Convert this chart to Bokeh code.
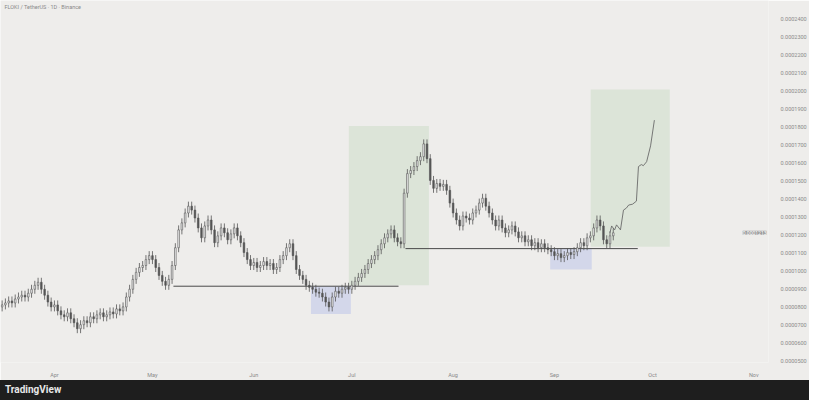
import pandas as pd
from bokeh.plotting import figure
from bokeh.layouts import column
from bokeh.models import (ColumnDataSource, Range1d, FixedTicker, NumeralTickFormatter,
                          DatetimeTickFormatter, MonthsTicker, Label, BoxAnnotation, Div)
from bokeh.embed import file_html
from bokeh.resources import INLINE

title_text = "FLOKI / TetherUS · 1D · Binance"
start_date = "2024-03-16"

# daily closes (USDT)
close = [
    0.0000812, 0.0000823, 0.0000834, 0.0000823, 0.0000845, 0.0000856, 0.0000866, 0.0000856, 0.0000877, 0.0000899, 0.0000921, 0.0000938, 0.0000899,
    0.0000866, 0.0000828, 0.0000801, 0.0000812, 0.0000779, 0.0000757, 0.0000746, 0.0000768, 0.0000735, 0.0000713, 0.0000680,
    0.0000702, 0.0000724, 0.0000713, 0.0000746, 0.0000735, 0.0000757, 0.0000768, 0.0000746, 0.0000757, 0.0000773, 0.0000762, 0.0000790, 0.0000779, 0.0000801,
    0.0000856, 0.0000899, 0.0000954, 0.0000993, 0.0001020, 0.0001031, 0.0001064, 0.0001086,
    0.0001064, 0.0001020, 0.0000976, 0.0000943, 0.0000921, 0.0000954,
    0.0001031, 0.0001130, 0.0001229, 0.0001268, 0.0001323, 0.0001361, 0.0001339,
    0.0001295, 0.0001240, 0.0001185, 0.0001251, 0.0001284, 0.0001229, 0.0001158, 0.0001196, 0.0001240, 0.0001213, 0.0001174, 0.0001207, 0.0001240, 0.0001196,
    0.0001158, 0.0001103, 0.0001064, 0.0001031, 0.0001048, 0.0001020, 0.0001031, 0.0001053,
    0.0001031, 0.0001042, 0.0001009, 0.0001020, 0.0001064, 0.0001086, 0.0001130, 0.0001152,
    0.0001086, 0.0001009, 0.0000976, 0.0000954, 0.0000921, 0.0000910, 0.0000899,
    0.0000883, 0.0000877, 0.0000856, 0.0000828, 0.0000801, 0.0000856,
    0.0000888, 0.0000877, 0.0000899, 0.0000910, 0.0000899, 0.0000921,
    0.0000943, 0.0000965, 0.0000987, 0.0001009, 0.0001042, 0.0001064, 0.0001086, 0.0001119, 0.0001152,
    0.0001185, 0.0001207, 0.0001229, 0.0001185, 0.0001163, 0.0001152,
    0.0001433, 0.0001542, 0.0001559, 0.0001581, 0.0001614, 0.0001636,
    0.0001707, 0.0001625, 0.0001504,
    0.0001460, 0.0001487, 0.0001471, 0.0001482, 0.0001449, 0.0001378,
    0.0001323, 0.0001284, 0.0001251, 0.0001306, 0.0001295, 0.0001284,
    0.0001323, 0.0001339, 0.0001378, 0.0001405, 0.0001361,
    0.0001323, 0.0001284, 0.0001251, 0.0001284, 0.0001240, 0.0001213, 0.0001229, 0.0001251,
    0.0001218, 0.0001185, 0.0001196, 0.0001163, 0.0001174, 0.0001141, 0.0001158, 0.0001130, 0.0001152,
    0.0001130, 0.0001119, 0.0001108, 0.0001086, 0.0001097, 0.0001075, 0.0001086, 0.0001103, 0.0001092, 0.0001108,
    0.0001130, 0.0001158, 0.0001141, 0.0001185, 0.0001196, 0.0001240, 0.0001284, 0.0001251, 0.0001174, 0.0001152, 0.0001196, 0.0001213,
]
first_open = 0.0000801
wick = 0.0000025

# projected path drawn after the last candle
proj_time = ["2024-09-18 00:00", "2024-09-18 12:00", "2024-09-19 10:00", "2024-09-20 00:00", "2024-09-21 05:00",
             "2024-09-22 03:00", "2024-09-23 00:00", "2024-09-23 17:00", "2024-09-24 22:00", "2024-09-26 02:00",
             "2024-09-26 17:00", "2024-09-27 14:00", "2024-09-28 05:00", "2024-09-29 05:00", "2024-09-30 10:00",
             "2024-10-01 14:00"]
proj_price = [0.0001213, 0.0001251, 0.0001229, 0.0001257, 0.0001229, 0.0001339, 0.0001350, 0.0001367,
              0.0001372, 0.0001389, 0.0001581, 0.0001592, 0.0001586, 0.0001608, 0.0001696, 0.0001839]

# zones and levels
green_left = ["2024-06-30 02:00", "2024-09-12 02:00"]
green_right = ["2024-07-24 14:00", "2024-10-06 07:00"]
green_top = [0.0001806, 0.0002009]
green_bottom = [0.0000921, 0.0001136]
blue_left = ["2024-06-18 12:00", "2024-08-30 17:00"]
blue_right = ["2024-06-30 17:00", "2024-09-12 10:00"]
blue_top = [0.0000916, 0.0001125]
blue_bottom = [0.0000762, 0.0001009]
level_start = ["2024-05-07 10:00", "2024-07-17 10:00"]
level_end = ["2024-07-15 07:00", "2024-09-26 12:00"]
level_price = [0.0000916, 0.0001125]

y_ticks = [0.00024, 0.00023, 0.00022, 0.00021, 0.0002, 0.00019, 0.00018, 0.00017, 0.00016, 0.00015,
           0.00014, 0.00013, 0.00012, 0.00011, 0.0001, 0.00009, 0.00008, 0.00007, 0.00006, 0.00005]
last_price = 0.0001213
last_price_text = "0.0001213"

# ---- build candles
dates = pd.date_range(start_date, periods=len(close), freq="D")
opens = [first_open] + close[:-1]
highs = [max(o, c) + wick for o, c in zip(opens, close)]
lows = [min(o, c) - wick for o, c in zip(opens, close)]
src = ColumnDataSource(dict(date=dates, open=opens, close=close, high=highs, low=lows,
                            top=[max(o, c) for o, c in zip(opens, close)],
                            bottom=[min(o, c) for o, c in zip(opens, close)],
                            fill=["#f2f2f2" if c >= o else "#555555" for o, c in zip(opens, close)]))

W, H = 809, 380
bg = "#eeedeb"
p = figure(width=W, height=H, output_backend="svg", toolbar_location=None,
           x_axis_type="datetime", y_axis_location="right",
           x_range=Range1d(pd.Timestamp("2024-03-15 12:00"), pd.Timestamp("2024-11-05 12:00")),
           y_range=Range1d(0.0000492, 0.0002504),
           min_border_left=0, min_border_right=0, min_border_top=0, min_border_bottom=0,
           background_fill_color=bg, border_fill_color=bg)
p.outline_line_color = None
p.grid.visible = False

for l, r, t, b in zip(green_left, green_right, green_top, green_bottom):
    p.add_layout(BoxAnnotation(left=pd.Timestamp(l), right=pd.Timestamp(r), top=t, bottom=b,
                               fill_color="#dce4d8", fill_alpha=1.0, line_color=None, level="underlay"))
for l, r, t, b in zip(blue_left, blue_right, blue_top, blue_bottom):
    p.add_layout(BoxAnnotation(left=pd.Timestamp(l), right=pd.Timestamp(r), top=t, bottom=b,
                               fill_color="#d3d7ea", fill_alpha=1.0, line_color=None, level="underlay"))

p.segment(x0=[pd.Timestamp(s) for s in level_start], x1=[pd.Timestamp(s) for s in level_end],
          y0=level_price, y1=level_price, line_color="#4a4a4a", line_width=1)

p.segment(x0="date", x1="date", y0="low", y1="high", source=src, line_color="#555555", line_width=0.8)
p.vbar(x="date", width=0.5 * 86400000, top="top", bottom="bottom", source=src,
       fill_color="fill", line_color="#555555", line_width=0.6)

p.line([pd.Timestamp(t) for t in proj_time], proj_price, line_color="#6a6a6a", line_width=0.9)

# axes
ax = p.yaxis[0]
ax.ticker = FixedTicker(ticks=y_ticks)
ax.formatter = NumeralTickFormatter(format="0.0000000")
ax.major_label_text_font_size = "5.5px"
ax.major_label_text_color = "#8a8a8a"
ax.axis_line_color = None
ax.major_tick_line_color = None
ax.minor_tick_line_color = None
ax.major_label_standoff = 6
ax.major_label_text_font = "Roboto"

xa = p.xaxis[0]
xa.ticker = MonthsTicker(months=list(range(1, 13)))
xa.formatter = DatetimeTickFormatter(months="%b", days="%b")
xa.major_label_text_font_size = "5.5px"
xa.major_label_text_color = "#8a8a8a"
xa.axis_line_color = None
xa.major_tick_line_color = None
xa.minor_tick_line_color = None
xa.major_label_standoff = 3
xa.major_label_text_font = "Roboto"

p.add_layout(Label(x=4, y=356, x_units="screen", y_units="screen", text=title_text,
                   text_font_size="5.5px", text_color="#8a8a8a", text_font="Roboto",
                   text_baseline="middle"))
p.add_layout(Label(x=766, y=last_price, x_units="screen", text=last_price_text,
                   text_font_size="5px", text_color="#ffffff", text_font="Roboto",
                   background_fill_color="#9a9a9a", text_baseline="middle", text_align="right"))

div = Div(text='<div style="font-family:Roboto,sans-serif;font-weight:bold;color:#e8e8e8;'
               'font-size:10px;line-height:20px;padding-left:5px;">TradingView</div>',
          width=W, height=20, margin=(0, 0, 0, 0),
          styles={"background-color": "#1e1e1e"})

layout = column(p, div, spacing=0)
open("out.html", "w").write(file_html(layout, INLINE))
